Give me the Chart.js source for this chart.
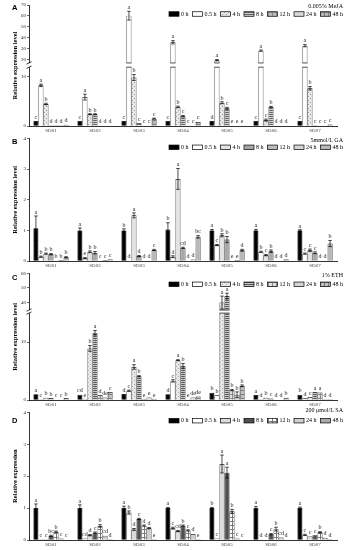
<!DOCTYPE html>
<html lang="en">
<head>
<meta charset="UTF-8">
<title>SD gene expression under hormone treatments</title>
<script src="https://cdn.jsdelivr.net/npm/chart.js"></script>
<style>
  body { margin: 0; background: #fff; }
  #wrap { position: relative; width: 356px; height: 550px; overflow: hidden; background: #fff; }
  canvas { position: absolute; left: 0; }
  .tag { position: absolute; left: 12px; font: bold 7.5px "Liberation Sans", Arial, sans-serif; line-height: 1; }
</style>
</head>
<body>
<div id="wrap">
  <canvas id="cA" width="356" height="136" style="top:0"></canvas>
  <canvas id="cB" width="356" height="136" style="top:135px"></canvas>
  <canvas id="cC" width="356" height="140" style="top:270px"></canvas>
  <canvas id="cD" width="356" height="145" style="top:405px"></canvas>
  <span class="tag" style="top:3.7px">A</span>
  <span class="tag" style="top:138px">B</span>
  <span class="tag" style="top:274px">C</span>
  <span class="tag" style="top:417px">D</span>
</div>
<script>
const genes = ['SD01', 'SD02', 'SD03', 'SD04', 'SD05', 'SD06', 'SD07'];
const times = ['0 h', '0.5 h', '4 h', '8 h', '12 h', '24 h', '48 h'];

// A: MeJA  (rows = time points, columns = genes)
const mejaVals = [
  [1.0, 1.0, 1.0, 1.0, 1.0, 1.0, 1.0],
  [8.3, 5.9, 60.3, 36.1, 19.8, 28.5, 33.0],
  [4.5, 2.4, 9.9, 3.9, 4.75, 1.2, 7.7],
  [0.15, 2.4, 0.6, 2.0, 3.6, 3.9, 0.15],
  [0.15, 0.05, 0.05, 0.05, 0.1, 0.05, 0.1],
  [0.15, 0.05, 0.05, 0.05, 0.05, 0.05, 0.1],
  [0.25, 0.05, 1.5, 0.8, 0.1, 0.05, 0.3]
];
const mejaErr = [
  [0.05, 0.05, 0.05, 0.05, 0.05, 0.05, 0.05],
  [0.25, 0.6, 4.0, 1.5, 0.6, 0.6, 1.0],
  [0.15, 0.1, 0.6, 0.15, 0.2, 0.2, 0.35],
  [0.02, 0.1, 0.05, 0.15, 0.2, 0.1, 0.02],
  [0.01, 0.01, 0.01, 0.01, 0.01, 0.01, 0.01],
  [0.01, 0.01, 0.01, 0.01, 0.01, 0.01, 0.01],
  [0.03, 0.01, 0.1, 0.08, 0.01, 0.01, 0.05]
];
const mejaSig = [
  ['c', 'c', 'c', 'c', 'd', 'c', 'c'],
  ['a', 'a', 'a', 'a', 'a', 'a', 'a'],
  ['b', 'b', 'b', 'b', 'b', 'c', 'b'],
  ['d', 'b', 'c', 'c', 'c', 'b', 'c'],
  ['d', 'd', 'c', 'c', 'e', 'd', 'c'],
  ['d', 'd', 'c', 'c', 'e', 'd', 'c'],
  ['d', 'd', 'c', 'c', 'e', 'd', 'c']
];
const mejaTicks = [0, 10, 20, 30, 40, 50, 60, 70];

// B: GA
const gaVals = [
  [1.07, 1.0, 1.0, 1.03, 1.0, 1.0, 1.0],
  [0.14, 0.09, 0.02, 0.14, 0.52, 0.3, 0.24],
  [0.24, 0.3, 1.49, 2.68, 0.84, 0.19, 0.35],
  [0.22, 0.27, 0.16, 0.43, 0.7, 0.32, 0.27],
  [0.02, 0.01, 0.01, 0.01, 0.01, 0.01, 0.02],
  [0.03, 0.03, 0.01, 0.05, 0.03, 0.02, 0.02],
  [0.12, 0.06, 0.36, 0.79, 0.35, 0.06, 0.57]
];
const gaErr = [
  [0.4, 0.08, 0.05, 0.22, 0.03, 0.03, 0.02],
  [0.02, 0.02, 0.01, 0.03, 0.02, 0.02, 0.02],
  [0.02, 0.03, 0.08, 0.34, 0.05, 0.02, 0.04],
  [0.02, 0.04, 0.02, 0.02, 0.1, 0.04, 0.03],
  [0, 0, 0, 0, 0, 0, 0],
  [0.01, 0.01, 0, 0.01, 0.01, 0.01, 0.01],
  [0.02, 0.01, 0.02, 0.04, 0.03, 0.01, 0.1]
];
const gaSig = [
  ['a', 'a', 'b', 'b', 'a', 'a', 'a'],
  ['b', 'e', 'd', 'd', 'c', 'b', 'c'],
  ['b', 'b', 'a', 'a', 'b', 'c', 'c'],
  ['b', 'b', 'd', 'cd', 'b', 'b', 'c'],
  ['b', 'c', 'd', 'd', 'e', 'd', 'd'],
  ['b', 'c', 'd', 'd', 'e', 'd', 'd'],
  ['b', 'c', 'c', 'bc', 'd', 'd', 'b']
];
const gaTicks = [0, 1, 2, 3, 4];

// C: ETH
const ethVals = [
  [1.0, 0.9, 1.03, 1.0, 1.25, 0.86, 0.9],
  [0.15, 0.2, 1.6, 3.3, 0.8, 0.15, 0.3],
  [0.4, 8.9, 5.7, 6.86, 39.8, 0.4, 0.5],
  [0.35, 11.6, 4.1, 5.9, 44.3, 0.25, 1.37],
  [0.05, 0.85, 0.2, 0.1, 1.7, 0.05, 1.3],
  [0.05, 0.45, 0.45, 0.45, 0.9, 0.05, 0.15],
  [0.35, 1.37, 0.2, 0.6, 2.45, 0.4, 0.15]
];
const ethErr = [
  [0.05, 0.05, 0.05, 0.05, 0.05, 0.05, 0.05],
  [0.02, 0.02, 0.1, 0.2, 0.05, 0.02, 0.02],
  [0.03, 0.5, 0.4, 0.1, 4.5, 0.03, 0.05],
  [0.03, 0.4, 0.1, 0.4, 2.0, 0.02, 0.05],
  [0.01, 0.05, 0.02, 0.01, 0.1, 0.01, 0.05],
  [0.01, 0.05, 0.05, 0.05, 0.5, 0.01, 0.02],
  [0.03, 0.05, 0.02, 0.05, 0.15, 0.03, 0.02]
];
const ethSig = [
  ['a', 'cd', 'd', 'd', 'b', 'a', 'b'],
  ['c', 'e', 'c', 'c', 'b', 'd', 'd'],
  ['b', 'b', 'a', 'a', 'a', 'b', 'c'],
  ['b', 'a', 'b', 'b', 'a', 'c', 'a'],
  ['c', 'd', 'e', 'e', 'b', 'd', 'a'],
  ['c', 'de', 'e', 'de', 'b', 'd', 'd'],
  ['b', 'c', 'e', 'de', 'b', 'b', 'd']
];
const ethTicks = [0, 10, 40, 50, 60];

// D: SA
const saVals = [
  [1.0, 1.0, 1.0, 1.0, 1.0, 1.0, 1.0],
  [0.02, 0.05, 0.86, 0.37, 0.05, 0.01, 0.16],
  [0.02, 0.15, 0.33, 0.28, 2.38, 0.01, 0.12],
  [0.13, 0.23, 0.66, 0.45, 2.11, 0.18, 0.15],
  [0.26, 0.44, 0.45, 0.3, 0.9, 0.34, 0.24],
  [0.05, 0.13, 0.37, 0.19, 0.05, 0.08, 0.07],
  [0.01, 0.02, 0.02, 0.02, 0.01, 0.01, 0.02]
];
const saErr = [
  [0.13, 0.1, 0.06, 0.02, 0.02, 0.05, 0.03],
  [0.01, 0.01, 0.05, 0.03, 0.01, 0, 0.02],
  [0.01, 0.02, 0.03, 0.02, 0.28, 0, 0.01],
  [0.02, 0.02, 0.02, 0.02, 0.17, 0.02, 0.01],
  [0.02, 0.04, 0.02, 0.02, 0.06, 0.06, 0.02],
  [0.01, 0.01, 0.02, 0.01, 0.01, 0.01, 0.01],
  [0, 0, 0, 0, 0, 0, 0]
];
const saSig = [
  ['a', 'a', 'a', 'a', 'b', 'a', 'a'],
  ['c', 'cd', 'b', 'c', 'c', 'd', 'c'],
  ['c', 'd', 'd', 'cd', 'a', 'd', 'c'],
  ['bc', 'c', 'c', 'b', 'a', 'c', 'c'],
  ['b', 'b', 'd', 'c', 'b', 'b', 'b'],
  ['c', 'cd', 'd', 'd', 'c', 'cd', 'd'],
  ['c', 'd', 'e', 'e', 'c', 'd', 'd']
];
const saTicks = [0, 1, 2, 3, 4];

// y scale with a gap between a low and a high segment
class BrokenScale extends Chart.LinearScale {
  getPixelForValue(v) {
    const b = this.options.brk;
    if (!b || v === null || v === undefined) return super.getPixelForValue(v);
    let d;
    if (v <= b.low) d = v / b.low * b.lowFrac;
    else if (v >= b.high) d = b.lowFrac + b.gapFrac + (v - b.high) / (this.max - b.high) * (1 - b.lowFrac - b.gapFrac);
    else d = b.lowFrac + (v - b.low) / (b.high - b.low) * b.gapFrac;
    return this.getPixelForDecimal(d);
  }
  getValueForPixel(p) {
    const b = this.options.brk;
    if (!b) return super.getValueForPixel(p);
    const d = this.getDecimalForPixel(p);
    if (d <= b.lowFrac) return d / b.lowFrac * b.low;
    if (d >= b.lowFrac + b.gapFrac) return b.high + (d - b.lowFrac - b.gapFrac) / (1 - b.lowFrac - b.gapFrac) * (this.max - b.high);
    return b.low;
  }
}
BrokenScale.id = 'broken';
BrokenScale.defaults = Chart.LinearScale.defaults;
Chart.register(BrokenScale);

function pat(ctx, bg, fg, kind) {
  const c = document.createElement('canvas');
  c.width = 4; c.height = 4;
  const g = c.getContext('2d');
  g.fillStyle = bg; g.fillRect(0, 0, 4, 4);
  g.fillStyle = fg;
  if (kind === 'h') { g.fillRect(0, 0, 4, 1); g.fillRect(0, 2, 4, 1); }
  if (kind === 'grid') { g.fillRect(0, 0, 4, 1); g.fillRect(0, 0, 1, 4); }
  if (kind === 'dot') { g.fillRect(0, 0, 1, 1); g.fillRect(2, 2, 1, 1); }
  return ctx.createPattern(c, 'repeat');
}

function line(ctx, x1, y1, x2, y2) {
  ctx.beginPath(); ctx.moveTo(x1, y1); ctx.lineTo(x2, y2); ctx.stroke();
}

function panel(id, o) {
  const cv = document.getElementById(id);
  const ctx = cv.getContext('2d');
  const fills = o.fills(ctx);

  const decor = {
    id: 'decor',
    afterDatasetsDraw(chart) {
      const { ctx, chartArea: ca, scales: { y } } = chart;
      ctx.save();
      ctx.strokeStyle = '#000';
      ctx.lineWidth = 0.7;
      if (o.brk) {
        const pl = y.getPixelForValue(o.brk.low), ph = y.getPixelForValue(o.brk.high);
        ctx.fillStyle = '#fff';
        ctx.fillRect(ca.left - 3, ph, ca.width + 3, pl - ph);
        chart.data.datasets.forEach((ds, i) => {
          chart.getDatasetMeta(i).data.forEach((bar, j) => {
            if (ds.data[j] > o.brk.high) {
              line(ctx, bar.x - bar.width / 2, pl, bar.x + bar.width / 2, pl);
              line(ctx, bar.x - bar.width / 2, ph, bar.x + bar.width / 2, ph);
            }
          });
        });
        ctx.lineWidth = 0.8;
        line(ctx, ca.left - 2.5, pl + 1.2, ca.left + 2.5, pl - 1.2);
        line(ctx, ca.left - 2.5, ph + 1.2, ca.left + 2.5, ph - 1.2);
      }
      ctx.lineWidth = 0.7;
      ctx.font = '6px "Liberation Serif"';
      ctx.fillStyle = '#222';
      ctx.textAlign = 'center';
      ctx.textBaseline = 'bottom';
      chart.data.datasets.forEach((ds, i) => {
        chart.getDatasetMeta(i).data.forEach((bar, j) => {
          const v = ds.data[j], e = ds.err[j];
          const yt = y.getPixelForValue(v + e);
          const yb = y.getPixelForValue(Math.max(v - e, 0));
          const hw = bar.width * 0.35;
          if (yb - yt > 0.8) {
            line(ctx, bar.x, yt, bar.x, yb);
            line(ctx, bar.x - hw, yt, bar.x + hw, yt);
            line(ctx, bar.x - hw, yb, bar.x + hw, yb);
          }
          ctx.fillText(ds.marks[j], bar.x, Math.min(yt, bar.y) - 0.8);
        });
      });
      ctx.restore();
    },
    afterDraw(chart) {
      const ctx = chart.ctx;
      ctx.save();
      ctx.font = '6px "Liberation Serif"';
      ctx.fillStyle = '#000';
      ctx.textBaseline = 'middle';
      ctx.textAlign = 'right';
      ctx.fillText(o.cond, 343, o.condY);
      const bw = 10, bh = 4.5, gap = 2, sep = 4;
      const widths = chart.data.datasets.map(ds => bw + gap + ctx.measureText(ds.label).width);
      let x = 343 - widths.reduce((a, b) => a + b, 0) - sep * (widths.length - 1);
      ctx.textAlign = 'left';
      ctx.lineWidth = 0.7;
      ctx.strokeStyle = '#000';
      chart.data.datasets.forEach((ds, i) => {
        ctx.fillStyle = ds.backgroundColor;
        ctx.fillRect(x, o.legY - bh / 2, bw, bh);
        ctx.strokeRect(x, o.legY - bh / 2, bw, bh);
        ctx.fillStyle = '#000';
        ctx.fillText(ds.label, x + bw + gap, o.legY);
        x += widths[i] + sep;
      });
      ctx.restore();
    }
  };

  return new Chart(ctx, {
    type: 'bar',
    data: {
      labels: genes,
      datasets: times.map((t, i) => ({
        label: t,
        data: o.values[i],
        err: o.errors[i],
        marks: o.sig[i],
        backgroundColor: fills[i],
        borderColor: '#000',
        borderWidth: 0.7
      }))
    },
    options: {
      responsive: false,
      animation: false,
      datasets: { bar: { categoryPercentage: 0.8, barPercentage: 1 } },
      layout: { padding: { top: o.top, right: 19, bottom: 0, left: 0 } },
      plugins: { legend: { display: false }, tooltip: { enabled: false } },
      scales: {
        x: {
          grid: { drawOnChartArea: false, drawTicks: false },
          border: { color: '#000', width: 0.8 },
          ticks: { font: { family: 'Liberation Serif', size: 5 }, color: '#444', padding: 2 },
          afterFit: s => { s.height = o.xh; }
        },
        y: {
          type: o.brk ? 'broken' : 'linear',
          brk: o.brk,
          min: 0,
          max: o.max,
          afterBuildTicks: s => { s.ticks = o.ticks.map(v => ({ value: v })); },
          afterFit: s => { s.width = 29; },
          ticks: { font: { family: 'Liberation Serif', size: 5, lineHeight: 1 }, color: '#222', padding: 1, autoSkip: false, callback: v => v },
          grid: { drawOnChartArea: false, drawTicks: true, tickLength: 2, color: '#000', lineWidth: 0.6 },
          border: { color: '#000', width: 0.8 },
          title: { display: true, text: o.ytitle, color: '#000', font: { family: 'Liberation Serif', size: 6.5, weight: 'bold' }, padding: { top: 11, bottom: 0 } }
        }
      }
    },
    plugins: [decor]
  });
}

panel('cA', {
  values: mejaVals, errors: mejaErr, sig: mejaSig, ticks: mejaTicks, max: 70,
  brk: { low: 12, high: 17.3, lowFrac: 0.486, gapFrac: 0.035 },
  top: 5, xh: 10, cond: '0.005% MeJA', condY: 6.5, legY: 14,
  ytitle: 'Relative expression level',
  fills: ctx => ['#000', '#fff', pat(ctx, '#e8e8e8', '#9a9a9a', 'dot'), pat(ctx, '#d0d0d0', '#666', 'h'),
    pat(ctx, '#bdbdbd', '#8a8a8a', 'grid'), '#d9d9d9', pat(ctx, '#b8b8b8', '#7a7a7a', 'grid')]
});

panel('cB', {
  values: gaVals, errors: gaErr, sig: gaSig, ticks: gaTicks, max: 4,
  top: 3, xh: 10, cond: '5mmol/L GA', condY: 5, legY: 12.3,
  ytitle: 'Relative expression level',
  fills: ctx => ['#000', '#fff', '#e3e3e3', '#a8a8a8', '#bcbcbc', '#d6d6d6', '#b8b8b8']
});

panel('cC', {
  values: ethVals, errors: ethErr, sig: ethSig, ticks: ethTicks, max: 60,
  brk: { low: 15, high: 34.6, lowFrac: 0.687, gapFrac: 0.024 },
  top: 2.7, xh: 10, cond: '1% ETH', condY: 5, legY: 14.3,
  ytitle: 'Relative expression level',
  fills: ctx => ['#000', '#fff', pat(ctx, '#e8e8e8', '#aaa', 'dot'), pat(ctx, '#c8c8c8', '#555', 'h'),
    pat(ctx, '#e0e0e0', '#888', 'grid'), '#d5d5d5', pat(ctx, '#c0c0c0', '#777', 'grid')]
});

panel('cD', {
  values: saVals, errors: saErr, sig: saSig, ticks: saTicks, max: 4,
  top: 7.3, xh: 10, cond: '200 μmol/L SA', condY: 5.7, legY: 15.7,
  ytitle: 'Relative expression',
  fills: ctx => ['#000', '#fff', '#dcdcdc', '#505050', pat(ctx, '#fff', '#777', 'grid'), '#cfcfcf', '#a9a9a9']
});
</script>
</body>
</html>
